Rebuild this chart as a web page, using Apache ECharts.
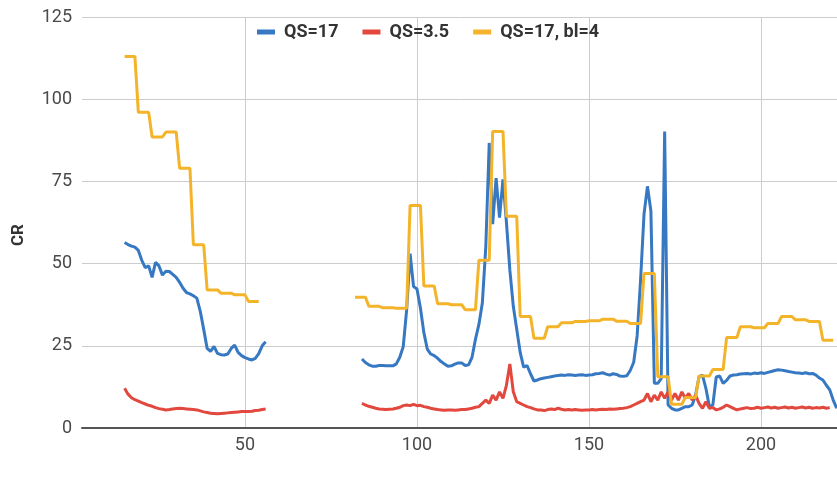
<!DOCTYPE html>
<html>
<head>
<meta charset="utf-8">
<script src="https://cdn.jsdelivr.net/npm/echarts@6/dist/echarts.min.js"></script>
<style>
html,body{margin:0;padding:0;background:#fff;}
#chart{width:837px;height:496px;}
</style>
</head>
<body>
<div id="chart"></div>
<script>
// frame numbers (x values); 57 is a break between the two recorded segments
const frames = [
  15,16,17,18,19,20,21,22,23,24,25,26,27,28,29,30,31,32,33,34,35,36,37,38,39,40,
  41,42,43,44,45,46,47,48,49,50,51,52,53,54,55,56,57,
  82,83,84,85,86,87,88,89,90,91,92,93,94,95,96,97,98,99,100,101,102,103,104,105,
  106,107,108,109,110,111,112,113,114,115,116,117,118,119,120,121,122,123,124,125,
  126,127,128,129,130,131,132,133,134,135,136,137,138,139,140,141,142,143,144,145,
  146,147,148,149,150,151,152,153,154,155,156,157,158,159,160,161,162,163,164,165,
  166,167,168,169,170,171,172,173,174,175,176,177,178,179,180,181,182,183,184,185,
  186,187,188,189,190,191,192,193,194,195,196,197,198,199,200,201,202,203,204,205,
  206,207,208,209,210,211,212,213,214,215,216,217,218,219,220,221,222
];

const seriesNames = ['QS=17', 'QS=3.5', 'QS=17, bl=4'];

const qs17 = [
  // 15..57
  56.4,55.8,55.3,55.0,54.0,51.0,48.8,49.3,45.8,50.4,49.3,46.5,47.7,47.6,46.7,45.8,
  44.3,42.5,41.2,40.8,40.2,39.5,35.5,30.0,24.2,23.3,24.8,22.7,22.3,22.2,22.5,24.2,
  25.2,23.0,22.0,21.4,21.0,20.7,21.2,22.6,25.0,26.2,null,
  // 82..83
  null,null,
  // 84..93
  21.0,19.9,19.2,18.8,18.8,19.0,19.0,18.9,18.9,18.9,
  // 94..103
  19.5,21.5,24.7,36.0,53.0,43.0,42.3,36.5,29.0,24.0,
  // 104..113
  22.5,22.0,21.2,20.2,19.5,18.8,18.9,19.4,19.8,19.8,
  // 114..123
  19.0,19.2,21.5,27.0,31.5,38.0,55.0,86.7,62.0,76.0,
  // 124..133
  64.0,75.6,62.6,48.0,37.0,30.0,23.0,18.5,19.0,16.5,
  // 134..143
  14.3,14.6,15.0,15.2,15.4,15.6,15.8,16.0,16.1,16.0,
  // 144..153
  16.2,16.1,16.0,16.1,16.2,16.0,16.1,16.2,16.5,16.6,
  // 154..163
  16.8,16.4,16.1,16.5,16.3,15.8,15.7,15.9,17.5,20.0,
  // 164..173
  28.0,45.0,65.0,73.5,66.0,13.6,13.6,15.0,90.2,7.0,
  // 174..183
  6.0,5.5,5.5,6.0,6.5,6.5,7.0,10.0,15.6,16.1,
  // 184..193
  12.0,6.5,7.0,15.5,15.8,13.6,14.5,15.8,16.1,16.2,
  // 194..203
  16.4,16.5,16.6,16.4,16.7,16.6,16.8,16.6,16.9,17.2,
  // 204..213
  17.5,17.7,17.6,17.4,17.2,17.0,16.8,16.7,16.6,16.8,
  // 214..222
  16.5,16.6,16.1,15.2,14.6,13.0,11.6,8.5,6.0
];

const qs35 = [
  // 15..57
  12.1,10.3,9.2,8.6,8.2,7.7,7.3,6.9,6.6,6.2,5.9,5.7,5.5,5.6,5.8,5.9,6.0,5.9,5.8,5.7,
  5.6,5.5,5.2,4.9,4.7,4.5,4.4,4.3,4.4,4.5,4.6,4.7,4.8,4.9,5.0,5.0,5.0,5.1,5.3,5.4,
  5.6,5.8,null,
  // 82..83
  null,null,
  // 84..93
  7.5,7.0,6.6,6.3,6.0,5.8,5.7,5.6,5.7,5.8,
  // 94..103
  6.0,6.3,6.8,7.0,6.8,7.2,6.8,6.9,6.5,6.3,
  // 104..113
  6.0,5.8,5.6,5.5,5.4,5.5,5.5,5.4,5.5,5.6,
  // 114..123
  5.6,5.8,6.0,6.3,6.5,7.5,8.5,7.5,10.0,8.5,
  // 124..133
  11.0,9.0,13.0,19.5,11.0,8.0,7.5,7.0,6.5,6.2,
  // 134..143
  5.8,5.5,5.5,5.3,5.6,5.8,5.6,6.0,5.7,5.5,
  // 144..153
  5.6,5.5,5.6,5.5,5.4,5.5,5.5,5.6,5.5,5.6,
  // 154..163
  5.7,5.6,5.8,5.7,5.8,5.9,6.0,6.2,6.5,7.0,
  // 164..173
  7.5,8.0,8.5,10.5,8.0,10.0,8.5,11.0,9.0,11.0,
  // 174..183
  8.5,10.5,8.5,11.0,9.0,10.5,8.5,10.0,7.5,6.0,
  // 184..193
  8.0,6.0,6.2,5.5,5.8,6.3,7.0,6.5,6.0,5.5,
  // 194..203
  5.8,6.0,6.2,5.9,6.0,6.3,6.0,6.2,6.4,6.1,
  // 204..213
  6.3,6.0,6.2,6.4,6.1,6.3,6.0,6.2,6.4,6.1,
  // 214..222
  6.3,6.0,6.2,6.1,6.3,6.0,6.2,null,null
];

const qs17bl4 = [
  // 15..57
  113,113,113,113, 96,96,96,96, 88.5,88.5,88.5,88.5, 90,90,90,90,
  79,79,79,79, 55.7,55.7,55.7,55.7, 42,42,42,42, 41,41,41,41,
  40.5,40.5,40.5,40.5, 38.5,38.5,38.5,38.5, null,null,null,
  // 82..221 in blocks of four
  39.8,39.8,39.8,39.8, 37.0,37.0,37.0,37.0, 36.6,36.6,36.6,36.6, 36.4,36.4,36.4,36.4,
  67.7,67.7,67.7,67.7, 43.2,43.2,43.2,43.2, 37.8,37.8,37.8,37.8, 37.5,37.5,37.5,37.5,
  36.0,36.0,36.0,36.0, 51.0,51.0,51.0,51.0, 90.2,90.2,90.2,90.2, 64.4,64.4,64.4,64.4,
  33.9,33.9,33.9,33.9, 27.3,27.3,27.3,27.3, 30.8,30.8,30.8,30.8, 32.0,32.0,32.0,32.0,
  32.4,32.4,32.4,32.4, 32.6,32.6,32.6,32.6, 33.1,33.1,33.1,33.1, 32.5,32.5,32.5,32.5,
  31.8,31.8,31.8,31.8, 47.0,47.0,47.0,47.0, 15.6,15.6,15.6,15.6, 7.2,7.2,7.2,7.2,
  9.3,9.3,9.3,9.3, 15.8,15.8,15.8,15.8, 17.8,17.8,17.8,17.8, 27.5,27.5,27.5,27.5,
  30.8,30.8,30.8,30.8, 30.5,30.5,30.5,30.5, 31.8,31.8,31.8,31.8, 33.9,33.9,33.9,33.9,
  32.9,32.9,32.9,32.9, 32.4,32.4,32.4,32.4, 26.7,26.7,26.7,26.7,
  // 222
  null
];

const xTicks = [50, 100, 150, 200];
const yTicks = [0, 25, 50, 75, 100, 125];
const yTitle = 'CR';
const colors = ['#3778c2', '#e2483d', '#f4b42a'];

const pair = (vals) => frames.map((f, i) => [f, vals[i]]);

const chart = echarts.init(document.getElementById('chart'), null, {renderer: 'canvas'});
const font = 'Roboto, "Noto Sans", sans-serif';

chart.setOption({
  animation: false,
  backgroundColor: '#ffffff',
  color: colors,
  textStyle: {fontFamily: font},
  grid: {left: 82, right: 0, top: 17, bottom: 68, containLabel: false},
  legend: {
    top: 18,
    left: 252,
    icon: 'rect',
    itemWidth: 18,
    itemHeight: 5,
    itemGap: 24,
    data: seriesNames,
    textStyle: {fontSize: 18, fontWeight: 'bold', color: '#333', fontFamily: font, padding: [0, 0, 0, 4]}
  },
  xAxis: {
    type: 'value',
    min: 2.62,
    max: 222.1,
    axisLine: {show: true, lineStyle: {color: '#555', width: 2}},
    axisTick: {show: false, customValues: xTicks},
    axisLabel: {customValues: xTicks, fontSize: 18, color: '#4a4a4a', margin: 8, fontFamily: font},
    splitLine: {show: true, lineStyle: {color: '#cccccc', width: 1}}
  },
  yAxis: {
    type: 'value',
    min: yTicks[0],
    max: yTicks[yTicks.length - 1],
    interval: 25,
    axisLine: {show: false},
    axisTick: {show: false},
    axisLabel: {fontSize: 18, color: '#4a4a4a', margin: 10, fontFamily: font},
    splitLine: {show: true, lineStyle: {color: '#cccccc', width: 1}}
  },
  graphic: [{
    type: 'text',
    x: 19,
    y: 235,
    rotation: Math.PI / 2,
    style: {text: yTitle, fontSize: 17, fontWeight: 'bold', fill: '#333', fontFamily: font, align: 'center', verticalAlign: 'middle'}
  }],
  series: [
    {name: seriesNames[0], type: 'line', data: pair(qs17), showSymbol: false, connectNulls: false, lineStyle: {width: 3}, z: 2},
    {name: seriesNames[1], type: 'line', data: pair(qs35), showSymbol: false, connectNulls: false, lineStyle: {width: 3}, z: 3},
    {name: seriesNames[2], type: 'line', data: pair(qs17bl4), showSymbol: false, connectNulls: false, lineStyle: {width: 3}, z: 4}
  ]
});
</script>
</body>
</html>
